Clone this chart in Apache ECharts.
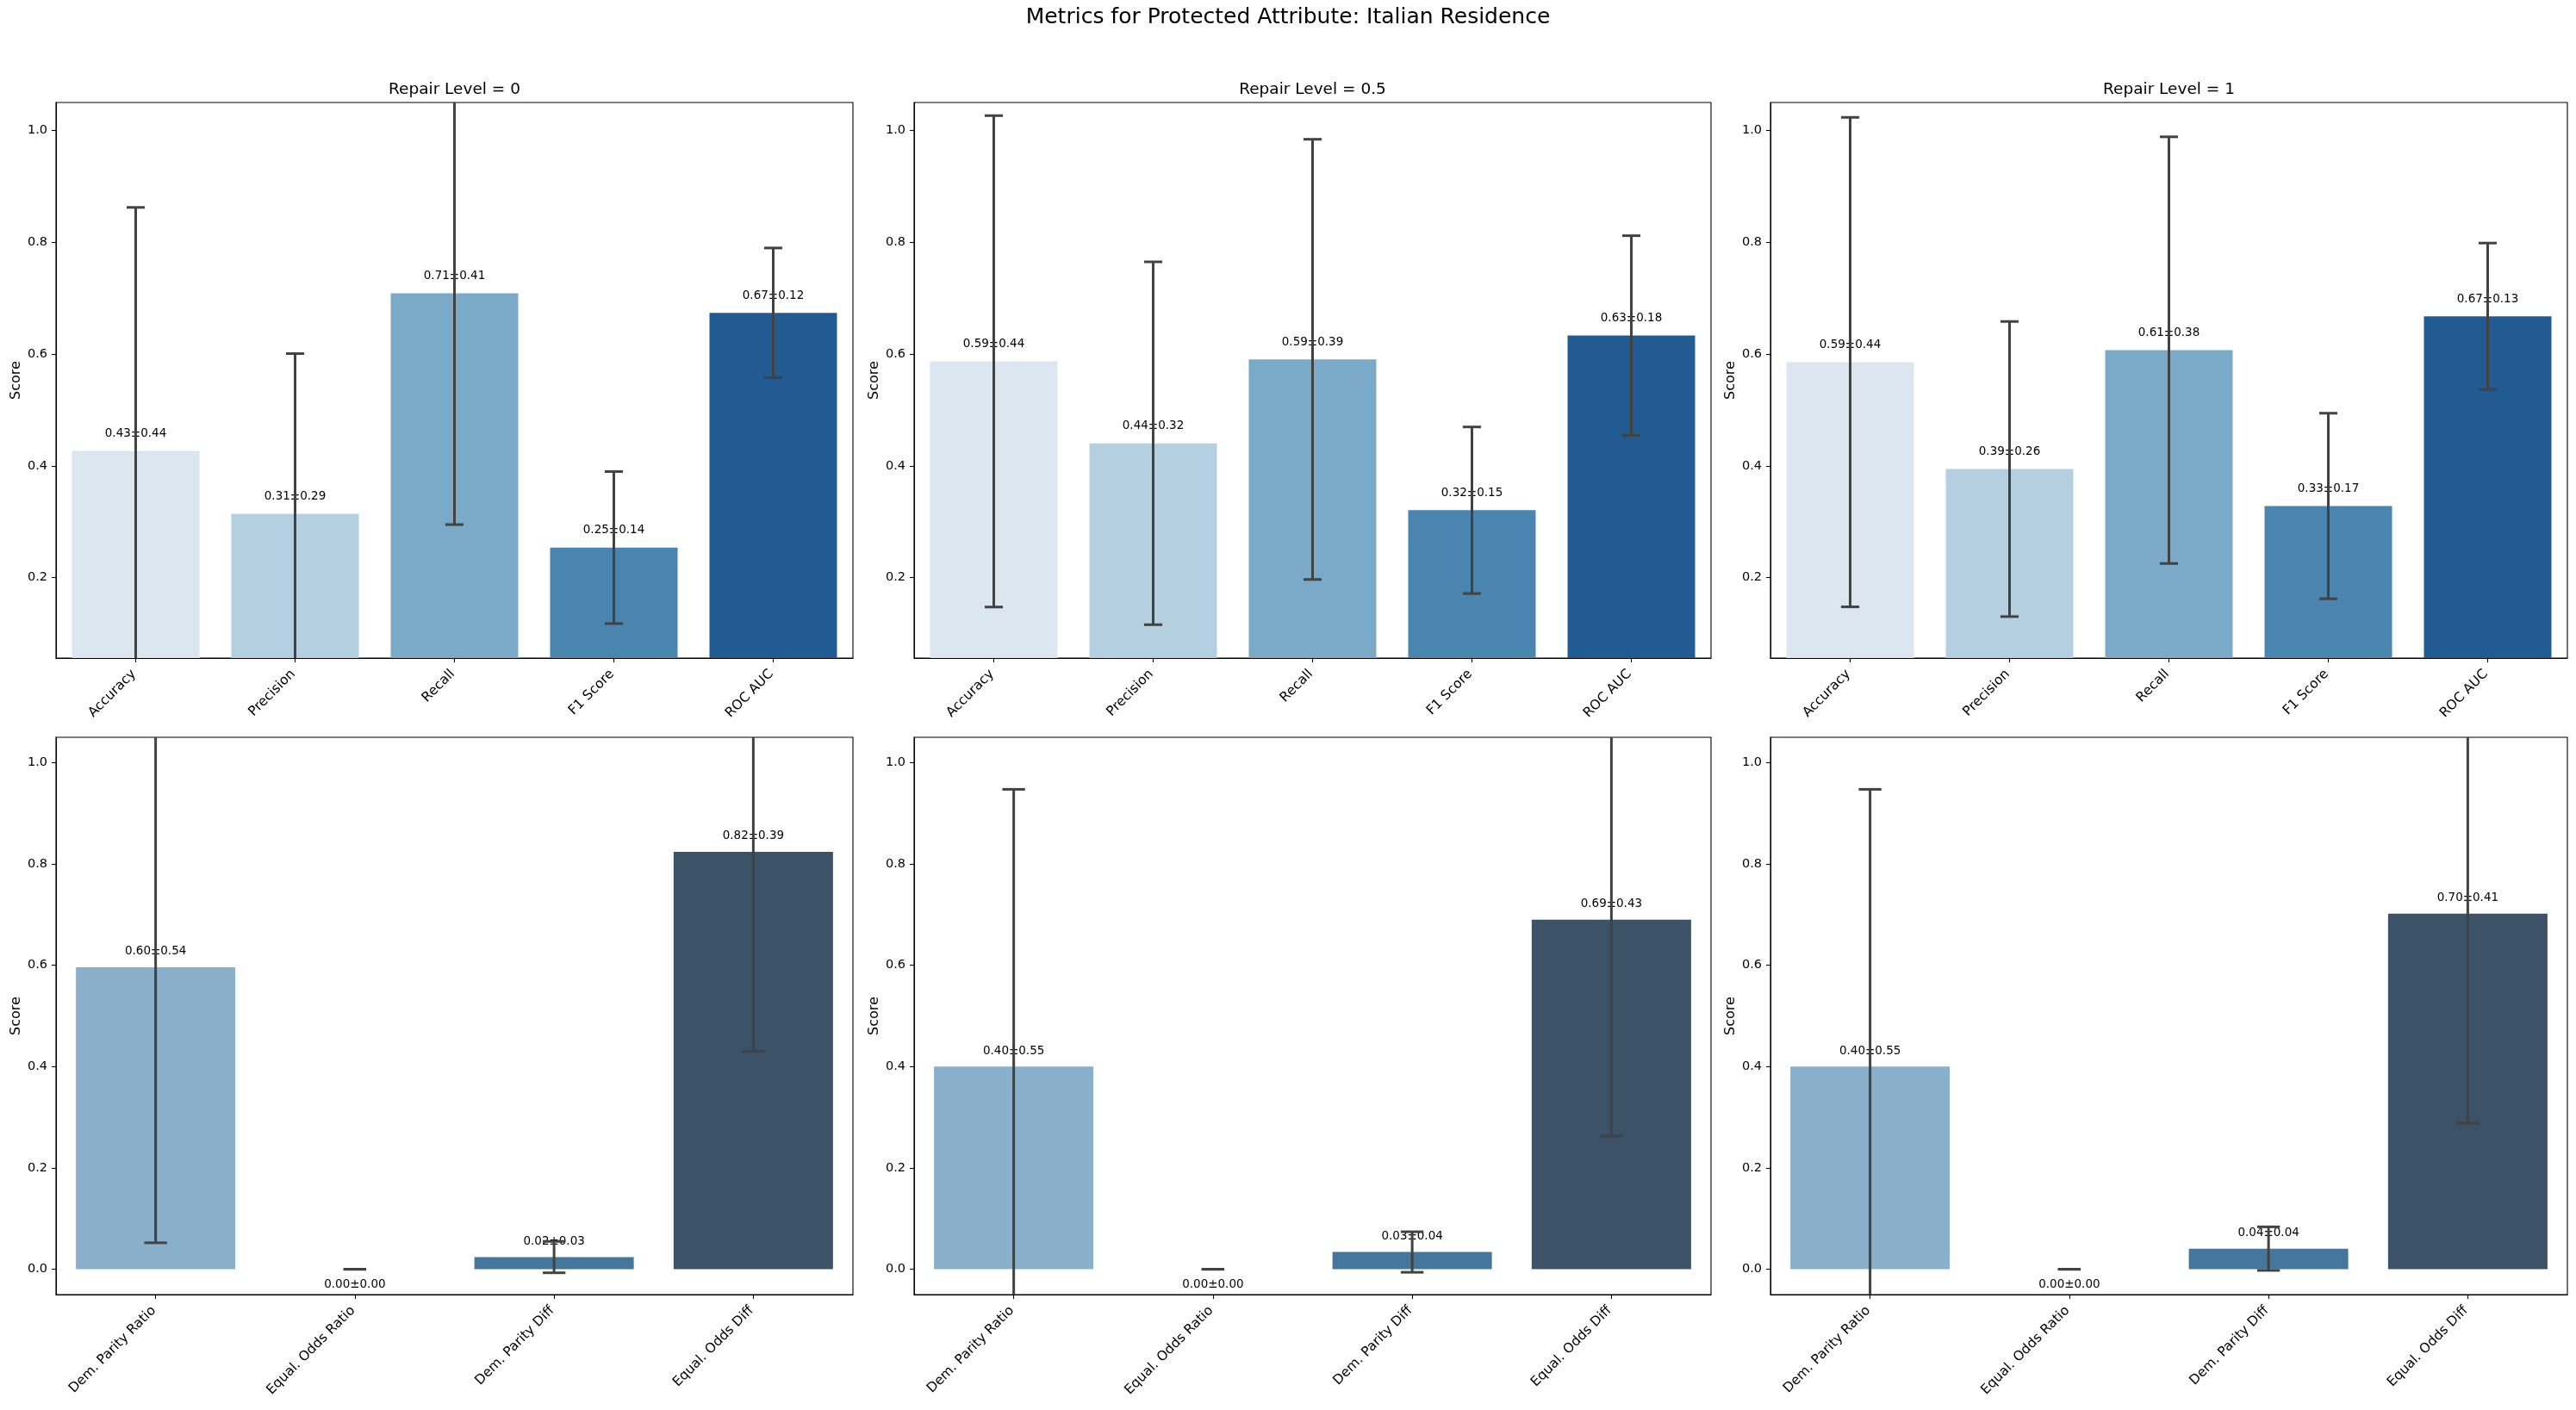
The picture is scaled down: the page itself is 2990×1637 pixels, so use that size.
<!DOCTYPE html>
<html>
<head>
<meta charset="utf-8">
<script src="https://cdn.jsdelivr.net/npm/echarts@6/dist/echarts.min.js"></script>
<style>
  html, body { margin: 0; padding: 0; background: #fff; }
  #chart { width: 2990px; height: 1637px; }
</style>
</head>
<body>
<div id="chart"></div>
<script>
// ---------------- data ----------------
const mainTitle = 'Metrics for Protected Attribute: Italian Residence';
const repairLevels = ['0', '0.5', '1'];

const perfCategories = ['Accuracy', 'Precision', 'Recall', 'F1 Score', 'ROC AUC'];
const fairCategories = ['Dem. Parity Ratio', 'Equal. Odds Ratio', 'Dem. Parity Diff', 'Equal. Odds Diff'];

// performance metrics (top row): mean and std per repair level
const perfMean0  = [0.4265, 0.3143, 0.7088, 0.2537, 0.6737];
const perfStd0   = [0.4358, 0.2864, 0.4140, 0.1360, 0.1160];
const perfMean05 = [0.5869, 0.4403, 0.5904, 0.3205, 0.6330];
const perfStd05  = [0.4396, 0.3246, 0.3938, 0.1490, 0.1787];
const perfMean1  = [0.5855, 0.3942, 0.6069, 0.3281, 0.6675];
const perfStd1   = [0.4379, 0.2640, 0.3817, 0.1660, 0.1310];

// fairness metrics (bottom row)
const fairMean0  = [0.5962, 0.0, 0.0240, 0.8240];
const fairStd0   = [0.5440, 0.0, 0.0310, 0.3940];
const fairMean05 = [0.4003, 0.0, 0.0340, 0.6898];
const fairStd05  = [0.5470, 0.0, 0.0400, 0.4264];
const fairMean1  = [0.4003, 0.0, 0.0407, 0.7019];
const fairStd1   = [0.5470, 0.0, 0.0430, 0.4133];

const perfTicks = [0.2, 0.4, 0.6, 0.8, 1.0];
const fairTicks = [0.0, 0.2, 0.4, 0.6, 0.8, 1.0];

const perfColors = ['#dbe6f1', '#b4cfe0', '#7aaac8', '#4a85b0', '#225b91'];
const fairColors = ['#8aafca', '#5b8ab0', '#45769b', '#3c5267'];

// ---------------- layout ----------------
const FONT = 'DejaVu Sans';
const gridLefts = [65, 1061, 2055];
const gridWidth = 925;
const rowTops = [119, 856];
const rowHeights = [645, 647];
const rowRanges = [[0.056, 1.05], [-0.05, 1.05]];

const panels = [
  { row: 0, col: 0, cats: perfCategories, mean: perfMean0,  std: perfStd0,  colors: perfColors, ticks: perfTicks },
  { row: 0, col: 1, cats: perfCategories, mean: perfMean05, std: perfStd05, colors: perfColors, ticks: perfTicks },
  { row: 0, col: 2, cats: perfCategories, mean: perfMean1,  std: perfStd1,  colors: perfColors, ticks: perfTicks },
  { row: 1, col: 0, cats: fairCategories, mean: fairMean0,  std: fairStd0,  colors: fairColors, ticks: fairTicks },
  { row: 1, col: 1, cats: fairCategories, mean: fairMean05, std: fairStd05, colors: fairColors, ticks: fairTicks },
  { row: 1, col: 2, cats: fairCategories, mean: fairMean1,  std: fairStd1,  colors: fairColors, ticks: fairTicks }
];

const grids = [], xAxes = [], yAxes = [], series = [];
const titles = [{
  text: mainTitle, left: 1495, top: 8, textAlign: 'center', padding: 0,
  textStyle: { fontFamily: FONT, fontSize: 25, fontWeight: 'normal', color: '#000' }
}];

function renderErr(params, api) {
  const x = api.value(0), m = api.value(1), s = api.value(2);
  const lo = api.coord([x, m - s]);
  const hi = api.coord([x, m + s]);
  const half = api.size([1, 0])[0] * 0.057;
  const style = { stroke: '#424242', lineWidth: 3, lineCap: 'butt' };
  return {
    type: 'group',
    children: [
      { type: 'line', shape: { x1: lo[0], y1: lo[1], x2: hi[0], y2: hi[1] }, style: style },
      { type: 'line', shape: { x1: hi[0] - half, y1: hi[1], x2: hi[0] + half, y2: hi[1] }, style: style },
      { type: 'line', shape: { x1: lo[0] - half, y1: lo[1], x2: lo[0] + half, y2: lo[1] }, style: style }
    ]
  };
}

panels.forEach((p, i) => {
  const left = gridLefts[p.col];
  grids.push({
    left: left, top: rowTops[p.row], width: gridWidth, height: rowHeights[p.row],
    show: true, borderColor: '#000', borderWidth: 1.1, backgroundColor: 'transparent',
    containLabel: false
  });
  if (p.row === 0) {
    titles.push({
      text: 'Repair Level = ' + repairLevels[p.col], left: left + gridWidth / 2, top: 95,
      textAlign: 'center', padding: 0,
      textStyle: { fontFamily: FONT, fontSize: 18.5, fontWeight: 'normal', color: '#000' }
    });
  }
  xAxes.push({
    type: 'category', gridIndex: i, data: p.cats, boundaryGap: true,
    axisLine: { show: true, onZero: false, lineStyle: { color: '#000', width: 1.1 } },
    axisTick: { show: true, alignWithLabel: true, length: 5, lineStyle: { color: '#000', width: 1.1 } },
    axisLabel: { rotate: 45, margin: 14, padding: [0, 3, 0, 0], fontFamily: FONT, fontSize: 15.5, color: '#000', interval: 0 },
    splitLine: { show: false }
  });
  const rng = rowRanges[p.row];
  yAxes.push({
    type: 'value', gridIndex: i, min: rng[0], max: rng[1],
    name: 'Score', nameLocation: 'middle', nameGap: 38,
    nameTextStyle: { fontFamily: FONT, fontSize: 16, color: '#000' },
    axisLine: { show: true, lineStyle: { color: '#000', width: 1.1 } },
    axisTick: { show: true, length: 5, customValues: p.ticks, lineStyle: { color: '#000', width: 1.1 } },
    axisLabel: {
      margin: 10, fontFamily: FONT, fontSize: 14.5, color: '#000',
      customValues: p.ticks, formatter: v => Number(v).toFixed(1)
    },
    splitLine: { show: false }
  });
  const barData = p.mean.map((m, k) => ({
    value: m,
    itemStyle: { color: p.colors[k] },
    label: { position: m > 0 ? 'top' : 'bottom', distance: p.row === 0 ? 13 : 11 }
  }));
  series.push({
    type: 'bar', xAxisIndex: i, yAxisIndex: i, data: barData,
    barWidth: '80%', animation: false,
    label: {
      show: true, fontFamily: FONT, fontSize: 13.5, color: '#000',
      formatter: params => p.mean[params.dataIndex].toFixed(2) + '±' + p.std[params.dataIndex].toFixed(2)
    },
    z: 2
  });
  series.push({
    type: 'custom', xAxisIndex: i, yAxisIndex: i, clip: true, animation: false,
    data: p.mean.map((m, k) => [k, m, p.std[k]]),
    encode: { x: 0, y: 1 },
    renderItem: renderErr,
    z: 3
  });
});

const chart = echarts.init(document.getElementById('chart'), null, { renderer: 'canvas' });
chart.setOption({
  backgroundColor: '#fff',
  animation: false,
  title: titles,
  grid: grids,
  xAxis: xAxes,
  yAxis: yAxes,
  series: series
});
</script>
</body>
</html>
